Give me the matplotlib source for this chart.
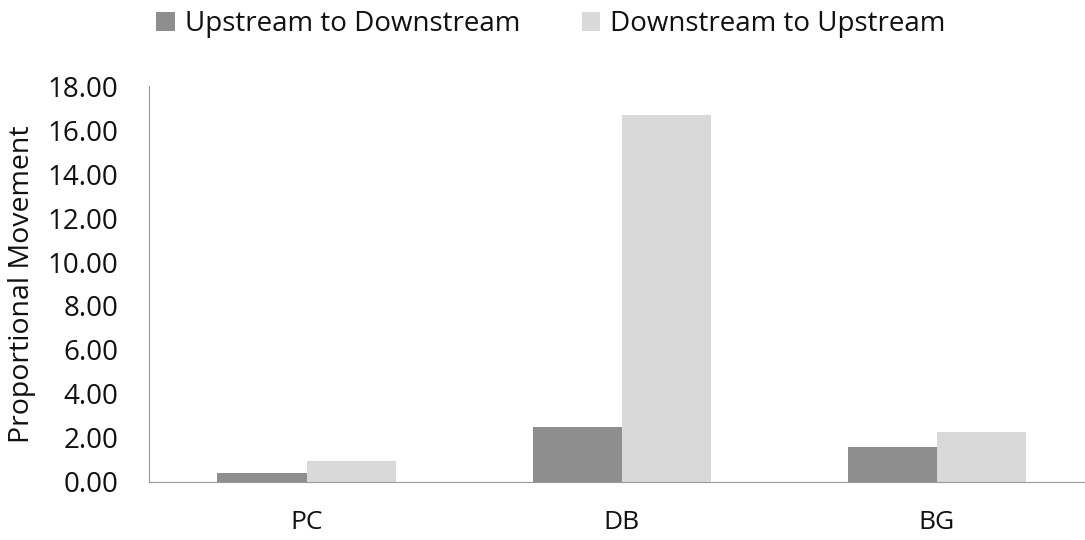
import matplotlib
matplotlib.use('Agg')
from matplotlib import pyplot as plt
from matplotlib.patches import Patch
import numpy as np

# data
sites = ['PC', 'DB', 'BG']
up_to_down = [0.42, 2.52, 1.6]
down_to_up = [0.96, 16.7, 2.28]
series_names = ['Upstream to Downstream', 'Downstream to Upstream']
y_ticks = [0, 2, 4, 6, 8, 10, 12, 14, 16, 18]

dark = '#8e8e8e'
light = '#d9d9d9'

plt.rcParams['font.family'] = ['Open Sans', 'DejaVu Sans']

fig = plt.figure(figsize=(10.85, 5.4), dpi=100)
ax = fig.add_axes([149 / 1085, 1 - 482 / 540, 1 - 149 / 1085, (482 - 86) / 540])

x = np.arange(len(sites))
w = 0.283
ax.bar(x - w / 2, up_to_down, width=w, color=dark)
ax.bar(x + w / 2, down_to_up, width=w, color=light)

ax.set_xlim(-0.5, 2.47)
ax.set_ylim(0, 18)
ax.set_yticks(y_ticks)
ax.set_yticklabels(['%.2f' % v for v in y_ticks])
ax.set_xticks(x)
ax.set_xticklabels(sites)
ax.tick_params(axis='both', length=0, colors='#111111')
ax.tick_params(axis='y', pad=22, labelsize=20)
ax.tick_params(axis='x', pad=20, labelsize=19)

for s in ['top', 'right']:
    ax.spines[s].set_visible(False)
ax.spines['left'].set_color('#9a9a9a')
ax.spines['bottom'].set_color('#9a9a9a')

fig.text(22 / 1085, 1 - 284 / 540, 'Proportional Movement', rotation=90,
         ha='center', va='center', fontsize=20.5, color='#111111')

handles = [Patch(facecolor=dark), Patch(facecolor=light)]
leg = fig.legend(handles, series_names, loc='center', bbox_to_anchor=(551 / 1085, 1 - 24 / 540),
                 ncol=2, frameon=False, fontsize=20, handlelength=0.68, handleheight=0.68,
                 handletextpad=0.36, columnspacing=2.2, borderpad=0)
for t in leg.get_texts():
    t.set_color('#111111')

plt.savefig('out.png', dpi=100)
